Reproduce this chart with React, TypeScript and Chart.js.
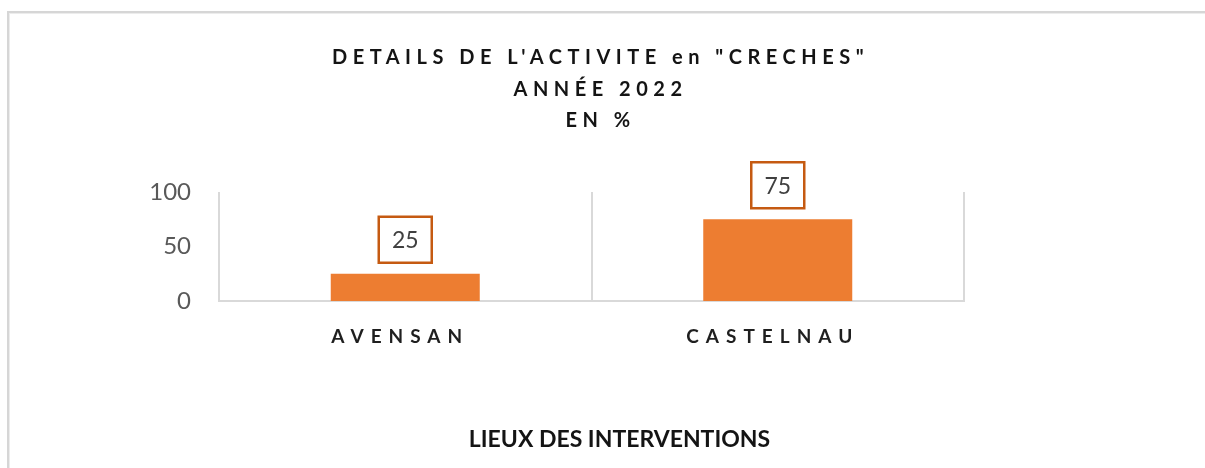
import React, { useEffect, useRef } from "react";
import { Chart, registerables } from "chart.js";

Chart.register(...registerables);

// ---- data ----
const categories = ["AVENSAN", "CASTELNAU"];
const values = [25, 75];
const yTicks = [0, 50, 100];
const titleLines = ["DETAILS DE L'ACTIVITE en \"CRECHES\"", "ANNÉE 2022", "EN %"];
const xAxisTitle = "LIEUX DES INTERVENTIONS";

// ---- styles ----
const FONT = "Lato, 'Open Sans', sans-serif";
const BAR = "#ED7D31";
const LABEL_BORDER = "#C55A11";
const GRID = "#D9D9D9";

const decor = {
  id: "decor",
  beforeDraw(chart: any) {
    const { ctx, width, height } = chart;
    ctx.save();
    ctx.fillStyle = "#ffffff";
    ctx.fillRect(0, 0, width, height);
    ctx.fillStyle = "#D6D6D6";
    ctx.fillRect(7, 11, width - 7, 2);
    ctx.fillRect(7, 11, 2, height - 11);
    ctx.fillStyle = "#ECECEC";
    ctx.fillRect(9, 13, width - 9, 1);
    ctx.fillRect(9, 13, 1, height - 13);
    ctx.restore();
  },
  afterDraw(chart: any) {
    const { ctx, chartArea, scales } = chart;
    const xs = scales.x;
    ctx.save();
    ctx.textAlign = "center";
    ctx.textBaseline = "middle";

    // title
    ctx.fillStyle = "#141414";
    ctx.font = `bold 20px ${FONT}`;
    ctx.letterSpacing = "5.5px";
    titleLines.forEach((t, i) => {
      ctx.fillText(t, chart.width / 2 - 2, 58 + i * 31.5);
    });

    // category labels
    ctx.fillStyle = "#1F1F1F";
    ctx.font = `bold 19px ${FONT}`;
    ctx.letterSpacing = "7px";
    categories.forEach((c, i) => {
      ctx.fillText(c, xs.getPixelForValue(i) - 5, chartArea.bottom + 36);
    });

    // axis title
    ctx.letterSpacing = "0px";
    ctx.fillStyle = "#141414";
    ctx.font = `bold 23px ${FONT}`;
    ctx.fillText(xAxisTitle, (chartArea.left + chartArea.right) / 2 + 28, chartArea.bottom + 139);

    // data labels
    const meta = chart.getDatasetMeta(0);
    ctx.font = `23px ${FONT}`;
    meta.data.forEach((bar: any, i: number) => {
      const txt = String(values[i]);
      const w = 53;
      const h = 46;
      const cx = bar.x;
      const bottom = bar.y - 11;
      ctx.fillStyle = "#ffffff";
      ctx.fillRect(cx - w / 2, bottom - h, w, h);
      ctx.strokeStyle = LABEL_BORDER;
      ctx.lineWidth = 2.5;
      ctx.strokeRect(cx - w / 2, bottom - h, w, h);
      ctx.fillStyle = "#404040";
      ctx.fillText(txt, cx, bottom - h / 2 + 1);
    });
    ctx.restore();
  },
};

export default function App() {
  const ref = useRef<HTMLCanvasElement | null>(null);

  useEffect(() => {
    if (!ref.current) return;
    const chart = new Chart(ref.current, {
      type: "bar",
      data: {
        labels: categories,
        datasets: [
          {
            data: values,
            backgroundColor: BAR,
            borderWidth: 0,
            barPercentage: 0.4,
            categoryPercentage: 1.0,
          },
        ],
      },
      options: {
        responsive: false,
        animation: false,
        devicePixelRatio: 1,
        layout: { padding: { top: 192, right: 241, left: 0, bottom: 0 } },
        plugins: {
          legend: { display: false },
          tooltip: { enabled: false },
          title: { display: false },
        },
        scales: {
          x: {
            offset: true,
            grid: { display: true, offset: true, color: GRID, lineWidth: 2, drawTicks: false },
            border: { display: true, color: GRID, width: 2 },
            ticks: { display: false },
            afterFit: (s: any) => {
              s.height = 167;
            },
          },
          y: {
            min: 0,
            max: 100,
            grid: { display: false, drawTicks: false },
            border: { display: false },
            ticks: {
              color: "#595959",
              font: { family: FONT, size: 24 },
              padding: 28,
            },
            afterBuildTicks: (s: any) => {
              s.ticks = yTicks.map((v) => ({ value: v }));
            },
            afterFit: (s: any) => {
              s.width = 219;
            },
          },
        },
      },
      plugins: [decor],
    });
    return () => chart.destroy();
  }, []);

  return (
    <canvas
      ref={ref}
      width={1205}
      height={468}
      style={{ position: "fixed", left: 0, top: 0, width: 1205, height: 468 }}
    />
  );
}
